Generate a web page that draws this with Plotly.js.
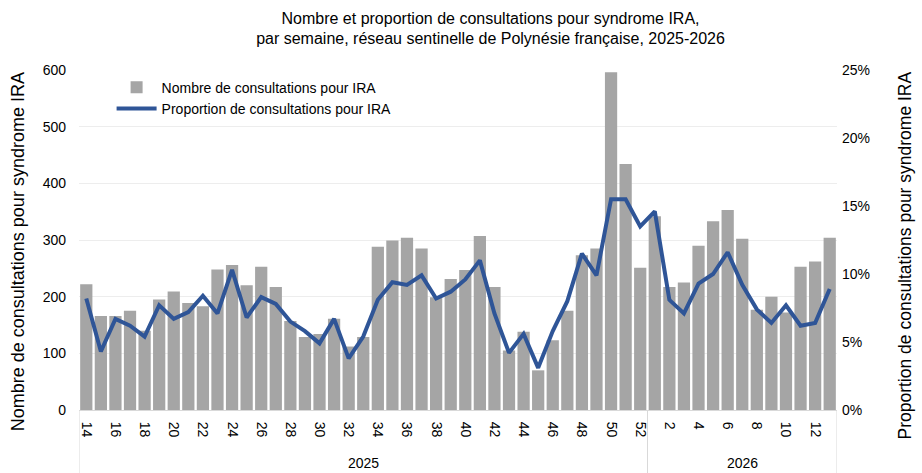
<!DOCTYPE html>
<html>
<head>
<meta charset="utf-8">
<script src="https://cdn.plot.ly/plotly-3.0.1.min.js"></script>
<style>
body { margin: 0; background: #fff; }
#chart { width: 922px; height: 473px; }
</style>
</head>
<body>
<div id="chart"></div>
<script>
// weeks and years (2025 wk14 -> 2026 wk13)
const years = ["2025","2025","2025","2025","2025","2025","2025","2025","2025","2025",
  "2025","2025","2025","2025","2025","2025","2025","2025","2025","2025",
  "2025","2025","2025","2025","2025","2025","2025","2025","2025","2025",
  "2025","2025","2025","2025","2025","2025","2025","2025","2025",
  "2026","2026","2026","2026","2026","2026","2026","2026","2026","2026","2026","2026","2026"];
const weeks = [14,15,16,17,18,19,20,21,22,23,24,25,26,27,28,29,30,31,32,33,
  34,35,36,37,38,39,40,41,42,43,44,45,46,47,48,49,50,51,52,
  1,2,3,4,5,6,7,8,9,10,11,12,13];

// nombre de consultations pour IRA
const counts = [222,166,166,175,140,195,209,189,183,248,256,220,253,217,157,129,134,161,112,129,
  288,299,304,285,199,231,247,307,217,105,138,70,123,175,273,285,596,434,251,
  342,217,225,290,333,353,302,177,200,172,253,262,304];

// proportion (%)
const pct = [8.2,4.3,6.7,6.2,5.4,7.7,6.7,7.2,8.4,7.1,10.3,6.8,8.3,7.8,6.5,5.8,4.9,6.7,3.8,5.4,
  8.1,9.4,9.2,9.9,8.2,8.7,9.6,11.0,7.1,4.2,5.6,3.1,5.8,8.0,11.5,9.9,15.5,15.5,13.5,
  14.6,8.1,7.1,9.3,10.0,11.6,9.2,7.4,6.4,7.7,6.2,6.4,8.9];

const FONT = "'Liberation Sans', Arial, sans-serif";

const xIdx = weeks.map((w, i) => i);
const tickIdx = xIdx.filter(i => weeks[i] % 2 === 0);
const tickTxt = tickIdx.map(i => String(weeks[i]));

// year groups
const yearList = [...new Set(years)];
const annotations = [];
const shapes = [];
const dividers = [-0.5];
yearList.forEach(yr => {
  const idx = xIdx.filter(i => years[i] === yr);
  const mid = (idx[0] + idx[idx.length - 1]) / 2;
  annotations.push({
    x: mid, y: -0.155, xref: "x", yref: "paper", text: yr, showarrow: false,
    font: {family: FONT, size: 14, color: "#000"}, yanchor: "middle"
  });
  dividers.push(idx[idx.length - 1] + 0.5);
});
dividers.forEach(d => {
  shapes.push({type: "line", xref: "x", yref: "paper", x0: d, x1: d, y0: 0, y1: -0.19,
    line: {color: "#D9D9D9", width: 1}});
});

// axis titles as annotations (placed like the original)
annotations.push({
  text: "Nombre de consultations pour syndrome IRA", textangle: -90, showarrow: false,
  xref: "paper", yref: "paper", x: -0.08, y: 0.465, xanchor: "center", yanchor: "middle",
  font: {family: FONT, size: 18, color: "#000"}
});
annotations.push({
  text: "Proportion de consultations pour syndrome IRA", textangle: -90, showarrow: false,
  xref: "paper", yref: "paper", x: 1.09, y: 0.455, xanchor: "center", yanchor: "middle",
  font: {family: FONT, size: 17.5, color: "#000"}
});

const data = [
  {
    type: "bar", x: xIdx, y: counts, name: "Nombre de consultations pour IRA",
    marker: {color: "#A5A5A5"}, yaxis: "y"
  },
  {
    type: "scatter", mode: "lines", x: xIdx, y: pct, name: "Proportion de consultations pour IRA",
    line: {color: "#2F5597", width: 4}, yaxis: "y2"
  }
];

const layout = {
  width: 922, height: 473,
  margin: {l: 79, r: 85, t: 70, b: 63},
  paper_bgcolor: "#fff", plot_bgcolor: "#fff",
  font: {family: FONT, size: 14, color: "#000"},
  title: {
    text: "Nombre et proportion de consultations pour syndrome IRA,<br>par semaine, réseau sentinelle de Polynésie française, 2025-2026",
    x: 0.532, xanchor: "center", y: 0.95, yanchor: "top",
    font: {family: FONT, size: 16, color: "#000"}
  },
  bargap: 0.16,
  showlegend: true,
  legend: {
    x: 0.043, y: 0.995, xanchor: "left", yanchor: "top",
    bgcolor: "rgba(0,0,0,0)", font: {family: FONT, size: 14, color: "#000"},
    tracegroupgap: 0, itemwidth: 40
  },
  xaxis: {
    range: [-0.5, weeks.length - 0.5],
    tickmode: "array", tickvals: tickIdx, ticktext: tickTxt,
    tickangle: 90, tickfont: {family: FONT, size: 14},
    ticklabelstandoff: 8,
    showgrid: false, zeroline: false,
    showline: true, linecolor: "#D9D9D9", ticks: ""
  },
  yaxis: {
    range: [0, 600], dtick: 100,
    showgrid: true, gridcolor: "#EDEDED", zeroline: false,
    tickfont: {family: FONT, size: 14},
    ticks: "", ticklabelstandoff: 12
  },
  yaxis2: {
    overlaying: "y", side: "right",
    range: [0, 25], dtick: 5, ticksuffix: "%",
    showgrid: false, zeroline: false,
    tickfont: {family: FONT, size: 14},
    ticks: "", ticklabelstandoff: 4
  },
  annotations: annotations,
  shapes: shapes
};

Plotly.newPlot("chart", data, layout, {displayModeBar: false, staticPlot: true});
</script>
</body>
</html>
